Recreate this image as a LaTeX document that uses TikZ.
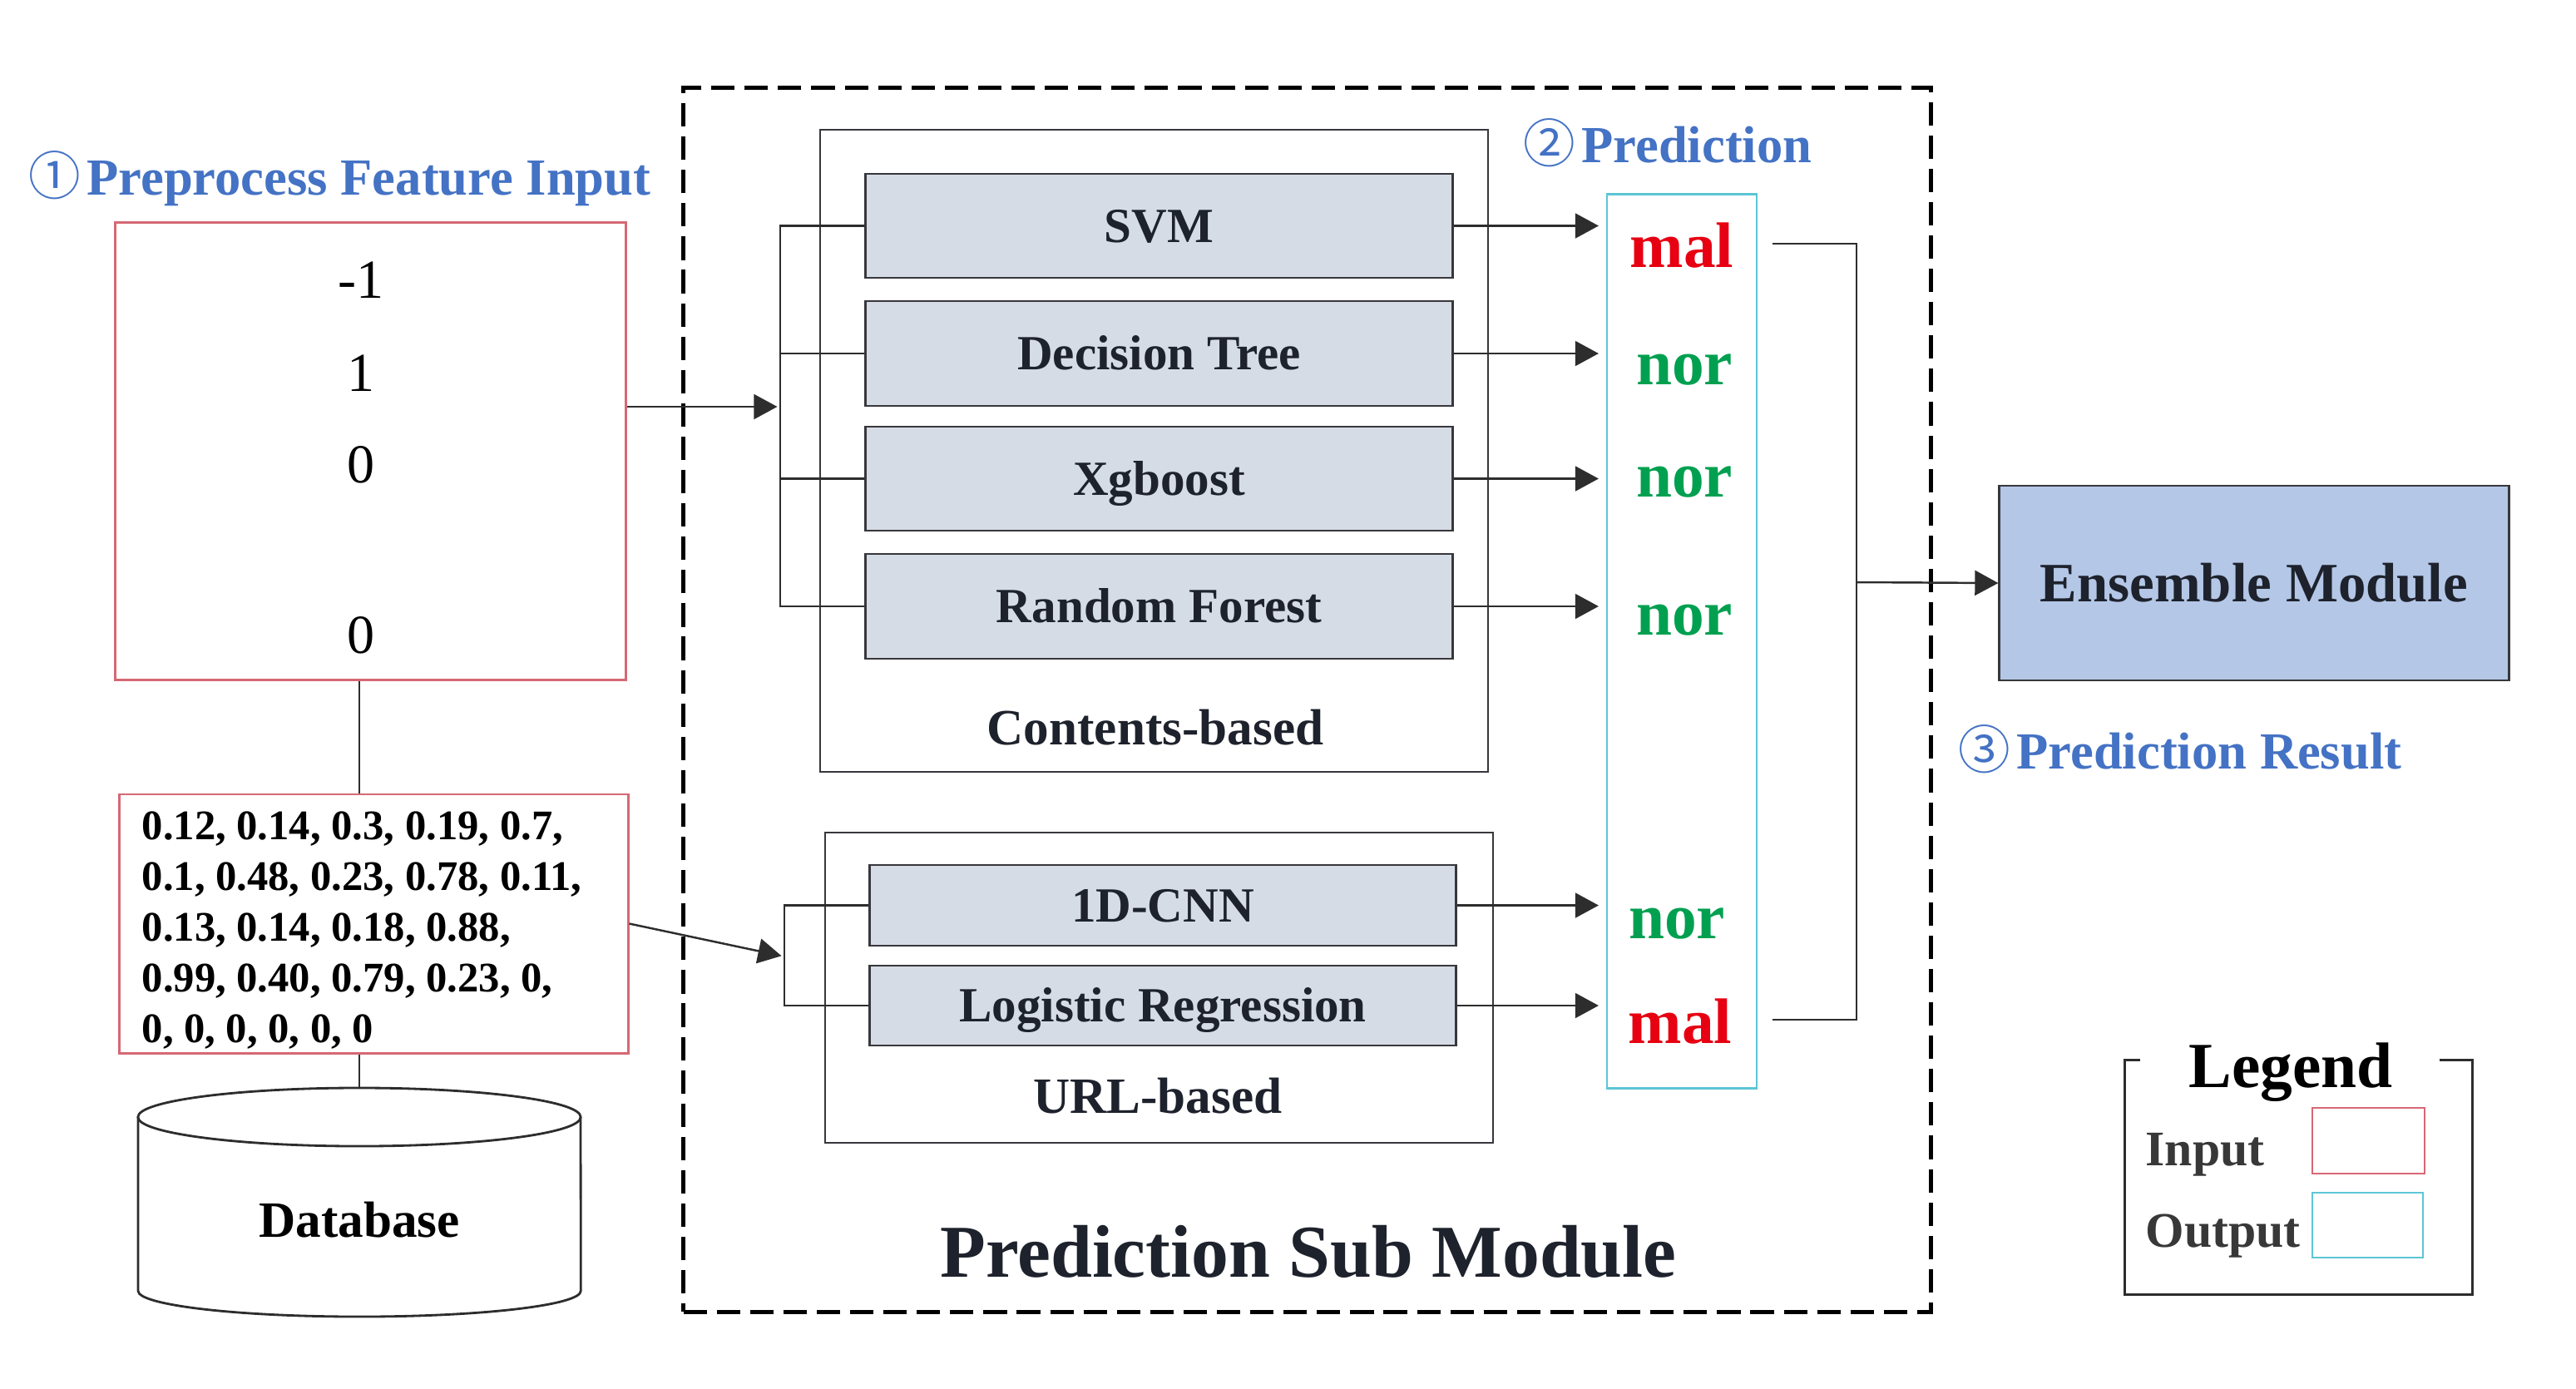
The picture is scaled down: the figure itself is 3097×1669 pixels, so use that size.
\documentclass[tikz,border=0pt]{standalone}
\usepackage{fontspec}
\setmainfont{Liberation Serif}
\newfontfamily\circfont{Noto Sans CJK SC}
\usetikzlibrary{arrows.meta}
\definecolor{labblue}{RGB}{68,114,196}
\definecolor{inred}{RGB}{214,104,116}
\definecolor{outcyan}{RGB}{92,198,214}
\definecolor{modelfill}{RGB}{214,220,229}
\definecolor{ensfill}{RGB}{180,199,231}
\definecolor{boxline}{RGB}{55,55,60}
\definecolor{darktext}{RGB}{30,34,44}
\definecolor{malred}{RGB}{230,0,18}
\definecolor{norgreen}{RGB}{0,160,80}
\definecolor{connc}{RGB}{45,45,45}
\begin{document}
\begin{tikzpicture}[x=0.01cm,y=-0.01cm,
  model/.style={draw=boxline, line width=0.75pt, fill=modelfill, minimum width=7.05cm, inner sep=0pt,
    font=\fontsize{16.8}{20}\selectfont\bfseries, text=darktext, text height=11.1pt, text depth=0pt},
  group/.style={draw=boxline, line width=0.7pt, inner sep=0pt},
  grouplab/.style={font=\fontsize{17.4}{21}\selectfont\bfseries, text=darktext, inner sep=0pt, anchor=base},
  inbox/.style={draw=inred, line width=0.8pt, inner sep=0pt},
  conn/.style={line width=0.7pt, draw=connc},
  arr/.style={conn, -{Triangle[length=8pt,width=8.5pt]}},
  bluelab/.style={text=labblue, font=\fontsize{17.8}{21}\selectfont\bfseries, inner sep=0pt, anchor=base west},
  pred/.style={font=\fontsize{22}{26}\selectfont\bfseries, inner sep=0pt, anchor=base},
  num/.style={font=\fontsize{18.8}{22}\selectfont, inner sep=0pt, anchor=base},
  leglab/.style={font=\fontsize{17}{20}\selectfont\bfseries, text=black!78, inner sep=0pt, anchor=base west}
]
\useasboundingbox (0,0) rectangle (3097,1669);

% ---------- input side ----------
\node[bluelab] (t1) at (34,234) {{\circfont\mdseries ①}\hspace{2pt}Preprocess Feature Input};
\node[inbox, minimum width=6.13cm, minimum height=5.49cm] (in1) at (445.5,542.5) {};
\node[num] (n1) at (434,358) {-1};
\node[num] (n2) at (434,470) {1};
\node[num] (n3) at (434,580) {0};
\node[num] (n4) at (434,785) {0};

\node[inbox, minimum width=6.11cm, minimum height=3.11cm] (in2) at (449.5,1110.5) {};
\node[font=\fontsize{14.4}{17.36}\selectfont\bfseries, align=left, inner sep=0pt, anchor=north west] (vec) at (170,975)
  {0.12, 0.14, 0.3, 0.19, 0.7,\\0.1, 0.48, 0.23, 0.78, 0.11,\\0.13, 0.14, 0.18, 0.88,\\0.99, 0.40, 0.79, 0.23, 0,\\0, 0, 0, 0, 0, 0};

% database cylinder
\draw[line width=0.8pt, draw=connc] (166,1343) -- (166,1552)
  arc[start angle=180, end angle=360, x radius=2.66cm, y radius=0.31cm] -- (698,1343);
\draw[line width=0.8pt, draw=connc] (432,1343) ellipse [x radius=2.66cm, y radius=0.35cm];
\coordinate (dbtop) at (432,1308);
\node[font=\fontsize{17.4}{21}\selectfont\bfseries, inner sep=0pt] (db) at (432,1467) {Database};

\draw[conn] (in1.south -| dbtop) -- (in2.north -| dbtop);
\draw[conn] (in2.south -| dbtop) -- (dbtop);

% ---------- prediction sub module ----------
\node[draw=black, line width=1.5pt, dash pattern=on 8pt off 3.4pt, minimum width=14.99cm, minimum height=14.71cm, inner sep=0pt] (psm) at (1571.5,841.5) {};
\node[font=\fontsize{25.5}{30}\selectfont\bfseries, text=darktext, inner sep=0pt, anchor=base] (psmlab) at (1573,1535) {Prediction Sub Module};

\node[group, minimum width=8.03cm, minimum height=7.72cm] (cbox) at (1387.5,542) {};
\node[grouplab] (cblab) at (1389,895) {Contents-based};
\node[model, minimum height=1.25cm] (svm) at (1393.5,271.5) {SVM};
\node[model, minimum height=1.26cm] (dt) at (1393.5,425) {Decision Tree};
\node[model, minimum height=1.25cm] (xg) at (1393.5,575.5) {Xgboost};
\node[model, minimum height=1.26cm] (rf) at (1393.5,729) {Random Forest};

\node[group, minimum width=8.03cm, minimum height=3.73cm] (ubox) at (1393.5,1187.5) {};
\node[grouplab] (ublab) at (1392,1338) {URL-based};
\node[model, minimum height=0.97cm] (cnn) at (1398,1088.5) {1D-CNN};
\node[model, minimum height=0.96cm] (lr) at (1398,1209) {Logistic Regression};

% brackets and inputs
\coordinate (cj) at (938,489);
\draw[conn] (svm.west) -- (svm.west -| cj) -- (rf.west -| cj) -- (rf.west);
\draw[conn] (dt.west) -- (dt.west -| cj);
\draw[conn] (xg.west) -- (xg.west -| cj);
\draw[arr, shorten >=1pt] (cj -| in1.east) -- (cj);

\coordinate (uj) at (943,1150);
\draw[conn] (cnn.west) -- (cnn.west -| uj) -- (lr.west -| uj) -- (lr.west);
\draw[arr, shorten >=1pt] (in2.east) -- (uj);

% outputs
\node[bluelab] (t2) at (1831,195) {{\circfont\mdseries ②}\hspace{2pt}Prediction};
\node[draw=outcyan, line width=0.7pt, minimum width=1.8cm, minimum height=10.74cm, inner sep=0pt] (outb) at (2022,771) {};
\node[pred, text=malred] (p1) at (2022,321) {mal};
\node[pred, text=norgreen] (p2) at (2025,462) {nor};
\node[pred, text=norgreen] (p3) at (2025,597) {nor};
\node[pred, text=norgreen] (p4) at (2025,763) {nor};
\node[pred, text=norgreen] (p5) at (2016,1128) {nor};
\node[pred, text=malred] (p6) at (2020,1254) {mal};

\draw[arr, shorten >=2.5pt] (svm.east) -- (svm.east -| outb.west);
\draw[arr, shorten >=2.5pt] (dt.east) -- (dt.east -| outb.west);
\draw[arr, shorten >=2.5pt] (xg.east) -- (xg.east -| outb.west);
\draw[arr, shorten >=2.5pt] (rf.east) -- (rf.east -| outb.west);
\draw[arr, shorten >=2.5pt] (cnn.east) -- (cnn.east -| outb.west);
\draw[arr, shorten >=2.5pt] (lr.east) -- (lr.east -| outb.west);

% ensemble
\coordinate (r1) at (2131,293);
\coordinate (r2) at (2131,1226);
\coordinate (jn) at (2232,700);
\draw[conn] (r1) -| (jn) |- (r2);
\node[draw=boxline, line width=0.8pt, fill=ensfill, minimum width=6.12cm, minimum height=2.34cm, inner sep=0pt,
  font=\fontsize{19}{23}\selectfont\bfseries, text=darktext, text height=12.6pt, text depth=0pt] (ens) at (2710,701) {Ensemble Module};
\draw[arr] (jn) -- (ens.west);
\node[bluelab] (t3) at (2354,924) {{\circfont\mdseries ③}\hspace{2pt}Prediction Result};

% legend
\node[font=\fontsize{22}{26}\selectfont\bfseries, inner sep=0pt, anchor=base] (leg) at (2754,1307) {Legend};
\draw[line width=0.85pt, draw=connc] (2573,1274) -- (2554,1274) -- (2554,1556) -- (2972,1556) -- (2972,1274) -- (2933,1274);
\node[leglab] (li) at (2579,1401) {Input};
\node[leglab] (lo) at (2579,1499) {Output};
\node[draw=inred, line width=0.8pt, minimum width=1.35cm, minimum height=0.79cm, inner sep=0pt] (si) at (2847.5,1371.5) {};
\node[draw=outcyan, line width=0.8pt, minimum width=1.33cm, minimum height=0.78cm, inner sep=0pt] (so) at (2846.5,1473) {};
\end{tikzpicture}
\end{document}
